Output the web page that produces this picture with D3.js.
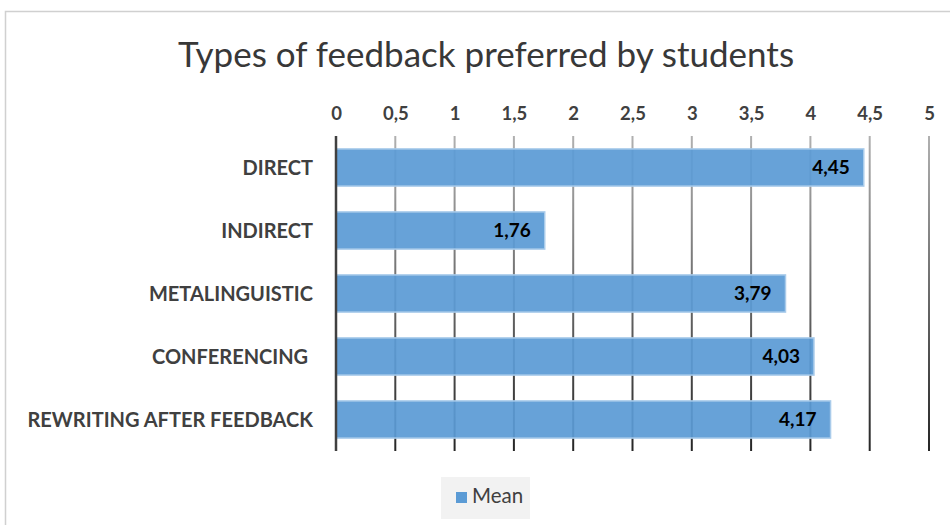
<!DOCTYPE html>
<meta charset="utf-8">
<style>
body { margin: 0; background: #fff; }
text { font-family: Lato, "Open Sans", sans-serif; }
.cat { font-size: 20px; font-weight: bold; fill: #404040; }
.tick-lbl { font-size: 18.5px; font-weight: bold; fill: #404040; }
.val { font-size: 19px; font-weight: bold; fill: #000; }
</style>
<body>
<script src="https://d3js.org/d3.v7.min.js"></script>
<script>

// data
var categories = ["DIRECT", "INDIRECT", "METALINGUISTIC", "CONFERENCING ", "REWRITING AFTER FEEDBACK"];
var means = [4.45, 1.76, 3.79, 4.03, 4.17];
var tickValues = [0, 0.5, 1, 1.5, 2, 2.5, 3, 3.5, 4, 4.5, 5];
var seriesName = "Mean";

var data = categories.map(function(c, i) { return {cat: c, value: means[i]}; });

var W = 950, H = 525;
var margin = {top: 136, left: 336, right: 21, bottom: 74};
var width = W - margin.left - margin.right,
    height = H - margin.top - margin.bottom;

var comma = function(v) { return String(v).replace(".", ","); };

var svg = d3.select("body").append("svg")
    .attr("width", W)
    .attr("height", H);

// chart border
svg.append("rect")
    .attr("x", 5.5).attr("y", 11.5)
    .attr("width", 960).attr("height", 540)
    .style("fill", "#fff")
    .style("stroke", "#d0d0d0")
    .style("stroke-width", 1.5);

// title
svg.append("text")
    .attr("x", 486)
    .attr("y", 67)
    .attr("text-anchor", "middle")
    .style("font-size", "35px")
    .style("fill", "#383838")
    .text("Types of feedback preferred by students");

var x = d3.scaleLinear().domain([0, 5]).range([0, width]);
var y = d3.scaleBand().domain(categories).range([0, height]).paddingInner(0.41).paddingOuter(0.205);

var g = svg.append("g")
    .attr("transform", "translate(" + margin.left + "," + margin.top + ")");

// gridline gradient, lighter at top
var grad = svg.append("defs").append("linearGradient")
    .attr("id", "grid-grad")
    .attr("gradientUnits", "userSpaceOnUse")
    .attr("x1", 0).attr("y1", 0)
    .attr("x2", 0).attr("y2", height);
grad.selectAll("stop")
    .data([{o: "0%", c: "#b0b0b0"}, {o: "100%", c: "#262626"}])
  .enter().append("stop")
    .attr("offset", function(d) { return d.o; })
    .attr("stop-color", function(d) { return d.c; });

// gridlines
g.selectAll(".grid")
    .data(tickValues.slice(1))
  .enter().append("line")
    .attr("class", "grid")
    .attr("x1", function(d) { return x(d); })
    .attr("x2", function(d) { return x(d); })
    .attr("y1", 0).attr("y2", height)
    .style("stroke", "url(#grid-grad)")
    .style("stroke-width", 2);

// top axis labels
var axis = g.append("g")
    .attr("transform", "translate(0,-13)")
    .call(d3.axisTop(x).tickValues(tickValues).tickFormat(comma).tickSize(0));
axis.select(".domain").remove();
axis.selectAll("text").attr("class", "tick-lbl").attr("dy", 0);

// bars
g.selectAll(".bar")
    .data(data)
  .enter().append("rect")
    .attr("class", "bar")
    .attr("x", 0)
    .attr("y", function(d) { return y(d.cat); })
    .attr("width", function(d) { return x(d.value); })
    .attr("height", y.bandwidth())
    .style("fill", "#5b9bd5")
    .style("fill-opacity", 0.93)
    .style("stroke", "#a9cbea")
    .style("stroke-width", 1.5);

// zero line
g.append("line")
    .attr("x1", 0).attr("x2", 0)
    .attr("y1", 0).attr("y2", height)
    .style("stroke", "#404040")
    .style("stroke-width", 2.5);

// value labels
g.selectAll(".val")
    .data(data)
  .enter().append("text")
    .attr("class", "val")
    .attr("x", function(d) { return x(d.value) - 14; })
    .attr("y", function(d) { return y(d.cat) + y.bandwidth() / 2; })
    .attr("dy", "0.36em")
    .attr("text-anchor", "end")
    .text(function(d) { return comma(d.value); });

// category labels
g.selectAll(".cat")
    .data(data)
  .enter().append("text")
    .attr("class", "cat")
    .attr("x", -23)
    .attr("y", function(d) { return y(d.cat) + y.bandwidth() / 2; })
    .attr("dy", "0.36em")
    .attr("text-anchor", "end")
    .style("white-space", "pre")
    .text(function(d) { return d.cat; });

// legend
var leg = svg.append("g").attr("transform", "translate(441,477)");
leg.append("rect")
    .attr("width", 89).attr("height", 42)
    .style("fill", "#f2f2f2");
leg.append("rect")
    .attr("x", 15).attr("y", 15)
    .attr("width", 11).attr("height", 11)
    .style("fill", "#5b9bd5");
leg.append("text")
    .attr("x", 31).attr("y", 26)
    .style("font-size", "20.5px")
    .style("fill", "#404040")
    .text(seriesName);

</script>
</body>
